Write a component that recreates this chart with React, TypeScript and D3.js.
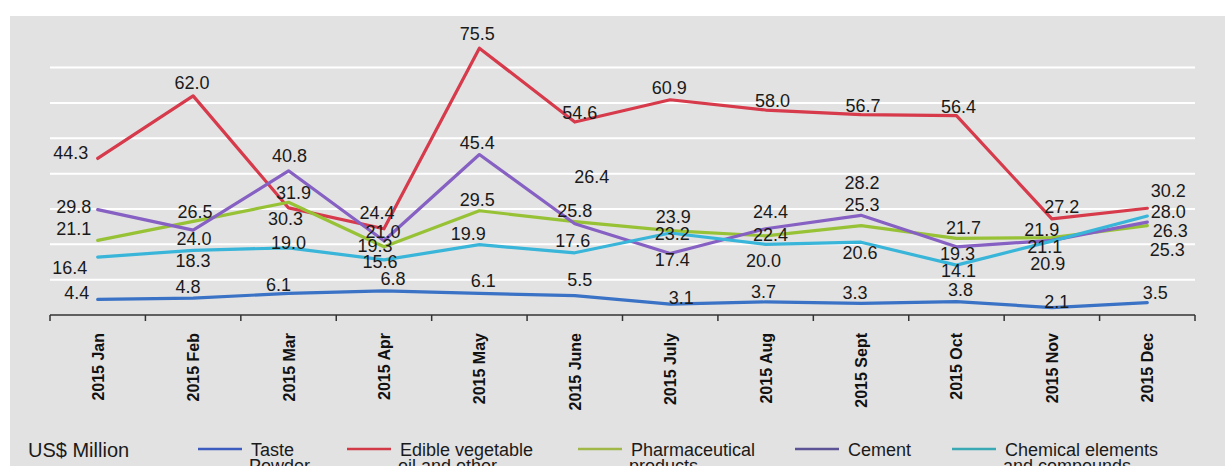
import React, { useEffect, useRef } from "react";
import * as d3 from "d3";

const months = [
  "2015 Jan", "2015 Feb", "2015 Mar", "2015 Apr", "2015 May", "2015 June",
  "2015 July", "2015 Aug", "2015 Sept", "2015 Oct", "2015 Nov", "2015 Dec",
];

const tastePowder = [4.4, 4.8, 6.1, 6.8, 6.1, 5.5, 3.1, 3.7, 3.3, 3.8, 2.1, 3.5];
const edibleOil = [44.3, 62.0, 30.3, 24.4, 75.5, 54.6, 60.9, 58.0, 56.7, 56.4, 27.2, 30.2];
const pharma = [21.1, 26.5, 31.9, 19.3, 29.5, 26.4, 23.9, 22.4, 25.3, 21.7, 21.9, 25.3];
const cement = [29.8, 24.0, 40.8, 21.0, 45.4, 25.8, 17.4, 24.4, 28.2, 19.3, 21.1, 26.3];
const chemicals = [16.4, 18.3, 19.0, 15.6, 19.9, 17.6, 23.2, 20.0, 20.6, 14.1, 20.9, 28.0];

const gridTicks = [10, 20, 30, 40, 50, 60, 70];
const unitLabel = "US$ Million";

// hand-placed data label nudges (dx, dy from the point), as in the source chart
const nudges: Record<string, [number, number][]> = {
  taste: [[-21, -7], [-5, -12], [-10, -9], [9, -12], [4, -13], [5, -16], [11, -7], [-2, -10], [-6, -11], [4, -12], [5, -6], [8, -10]],
  oil: [[-27, -6], [-1, -13], [-3, 11], [-7, -16], [-2, -15], [5, -10], [-1, -12], [7, -10], [2, -9], [2, -9], [10, -12], [21, -18]],
  pharma: [[-24, -12], [2, -10], [5, -10], [-9, -1], [-2, -11], [17, -45], [3, -14], [5, -1], [1, -21], [7, -11], [-10, -8], [20, 24]],
  cement: [[-24, -3], [1, 8], [1, -15], [-1, -9], [-2, -12], [0, -13], [2, 6], [5, -17], [1, -33], [1, 7], [-7, 6], [23, 8]],
  chem: [[-28, 10], [0, 10], [0, -5], [-4, 2], [-11, -11], [-2, -12], [2, 0], [-2, 16], [-1, 10], [2, 5], [-4, 22], [21, -5]],
};

const series = [
  { key: "taste", name: ["Taste", "Powder"], values: tastePowder, color: "#3a72c6", legendColor: "#3c5cc0" },
  { key: "oil", name: ["Edible vegetable", "oil and other"], values: edibleOil, color: "#d63a4b", legendColor: "#d23a48" },
  { key: "pharma", name: ["Pharmaceutical", "products"], values: pharma, color: "#98c236", legendColor: "#a0b848" },
  { key: "cement", name: ["Cement"], values: cement, color: "#8660c2", legendColor: "#5c5296" },
  { key: "chem", name: ["Chemical elements", "and compounds"], values: chemicals, color: "#38b5d8", legendColor: "#3aa9b4" },
];

const drawOrder = ["taste", "oil", "pharma", "cement", "chem"];

export default function App() {
  const svgRef = useRef<SVGSVGElement>(null);

  useEffect(() => {
    if (!svgRef.current) return;
    const width = 1225;
    const height = 466;
    const font = "'Liberation Sans', Arial, sans-serif";
    const svg = d3.select(svgRef.current).attr("width", width).attr("height", height);
    svg.selectAll("*").remove();

    const plotLeft = 50;
    const plotRight = 1195;
    const baseY = 315;

    // panel
    svg.append("rect").attr("x", 10).attr("y", 16).attr("width", width - 10).attr("height", height - 16).attr("fill", "#e2e2e2");

    const x = d3.scaleBand<string>().domain(months).range([plotLeft, plotRight]);
    const y = d3.scaleLinear().domain([0, 80]).range([baseY, baseY - 80 * 3.534]);
    const cx = (m: string) => (x(m) as number) + x.bandwidth() / 2;

    // gridlines
    svg.append("g")
      .selectAll("line")
      .data(gridTicks)
      .join("line")
      .attr("x1", plotLeft).attr("x2", plotRight)
      .attr("y1", (d) => y(d)).attr("y2", (d) => y(d))
      .attr("stroke", "#ffffff").attr("stroke-width", 2);

    // x axis with ticks at category boundaries
    const axis = svg.append("g");
    axis.append("line").attr("x1", plotLeft).attr("x2", plotRight).attr("y1", baseY).attr("y2", baseY)
      .attr("stroke", "#333").attr("stroke-width", 1.5);
    const bounds = months.map((m) => x(m) as number).concat([plotRight]);
    axis.selectAll("line.tick").data(bounds).join("line").attr("class", "tick")
      .attr("x1", (d) => d).attr("x2", (d) => d).attr("y1", baseY).attr("y2", baseY + 6)
      .attr("stroke", "#333").attr("stroke-width", 1.5);
    axis.selectAll("text").data(months).join("text")
      .attr("transform", (m) => `translate(${cx(m) + 6},${baseY + 18}) rotate(-90)`)
      .attr("text-anchor", "end")
      .attr("font-family", font).attr("font-size", 16).attr("font-weight", "bold").attr("fill", "#111")
      .text((m) => m);

    // lines
    const line = d3.line<number>().x((_, i) => cx(months[i])).y((d) => y(d));
    const ordered = drawOrder.map((k) => series.find((s) => s.key === k)!);
    ordered.forEach((s) => {
      svg.append("path").datum(s.values).attr("d", line).attr("fill", "none")
        .attr("stroke", s.color).attr("stroke-width", 3.2)
        .attr("stroke-linejoin", "round").attr("stroke-linecap", "round");
    });

    // data labels
    ordered.forEach((s) => {
      const nd = nudges[s.key];
      svg.append("g").selectAll("text").data(s.values).join("text")
        .attr("x", (d, i) => cx(months[i]) + nd[i][0])
        .attr("y", (d, i) => y(d) + nd[i][1] + 6.5)
        .attr("text-anchor", "middle")
        .attr("font-family", font).attr("font-size", 18).attr("fill", "#1a1a1a")
        .text((d) => d.toFixed(1));
    });

    // legend
    const legendY = 449;
    svg.append("text").attr("x", 28).attr("y", 457).attr("font-family", font).attr("font-size", 20)
      .attr("fill", "#1a1a1a").text(unitLabel);
    const legendX = [198, 347, 578, 795, 952];
    series.forEach((s, i) => {
      const lx = legendX[i];
      svg.append("line").attr("x1", lx).attr("x2", lx + 44).attr("y1", legendY).attr("y2", legendY)
        .attr("stroke", s.legendColor).attr("stroke-width", 2.5);
      const t = svg.append("text").attr("x", lx + 53).attr("y", 456)
        .attr("font-family", font).attr("font-size", 18).attr("fill", "#1a1a1a");
      s.name.forEach((part, j) => {
        t.append("tspan").attr("x", lx + 53 - (j ? 2 : 0)).attr("dy", j ? 16 : 0).text(part);
      });
    });
  }, []);

  return (
    <div style={{ position: "absolute", left: 0, top: 0, width: 1225, height: 466, background: "#fff" }}>
      <svg ref={svgRef} style={{ display: "block" }} />
    </div>
  );
}
